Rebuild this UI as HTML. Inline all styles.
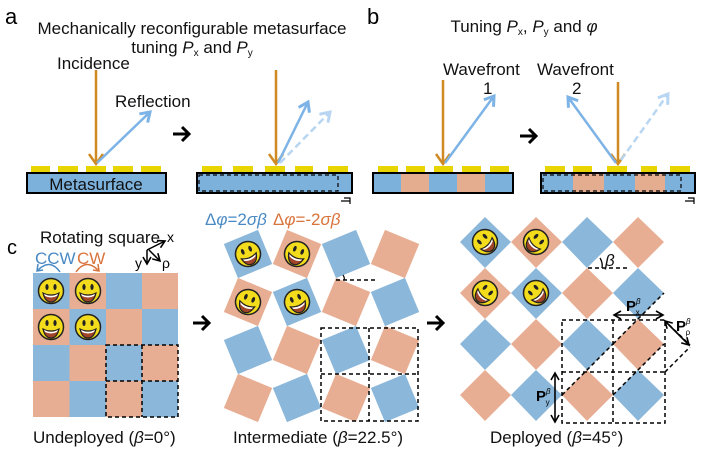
<!DOCTYPE html>
<html><head><meta charset="utf-8"><style>
html,body{margin:0;padding:0;background:#fff;}
svg{display:block;font-family:"Liberation Sans",sans-serif;}
</style></head><body>
<svg width="708" height="453" viewBox="0 0 708 453" xmlns="http://www.w3.org/2000/svg">
<defs>
<marker id="ab" markerWidth="14" markerHeight="14" refX="10" refY="7" orient="auto" markerUnits="userSpaceOnUse"><path d="M1,1 L10,7 L1,13" fill="none" stroke="#7db3e6" stroke-width="3"/></marker>
<marker id="abl" markerWidth="14" markerHeight="14" refX="10" refY="7" orient="auto" markerUnits="userSpaceOnUse"><path d="M1,1 L10,7 L1,13" fill="none" stroke="#b8d6f2" stroke-width="3"/></marker>
<marker id="ak" markerWidth="10" markerHeight="10" refX="8" refY="5" orient="auto" markerUnits="userSpaceOnUse"><path d="M1,1 L8,5 L1,9" fill="none" stroke="#000" stroke-width="1.6"/></marker>
<marker id="ak2" markerWidth="10" markerHeight="10" refX="8" refY="5" orient="auto-start-reverse" markerUnits="userSpaceOnUse"><path d="M1,1 L8,5 L1,9" fill="none" stroke="#000" stroke-width="1.6"/></marker>
<symbol id="sm" viewBox="-14 -14 28 28">
<circle r="12.5" fill="#f2dc1c" stroke="#222" stroke-width="1.5"/>
<ellipse cx="-4" cy="-4" rx="1.6" ry="3" fill="#222"/>
<ellipse cx="4" cy="-4" rx="1.6" ry="3" fill="#222"/>
<path d="M-8,2 Q0,6 8,2 Q6,11 0,11 Q-6,11 -8,2Z" fill="#a0452a" stroke="#222" stroke-width="1.2"/>
<path d="M-7,3 Q0,6.5 7,3 L6,5 Q0,8 -6,5Z" fill="#fff"/>
</symbol>
</defs>
<style>.t{font-size:17px;fill:#111}.s{font-size:10px}</style>

<!-- panel a -->
<text x="5" y="24" font-size="22">a</text>
<text x="192" y="34" class="t" text-anchor="middle">Mechanically reconfigurable metasurface</text>
<text x="192" y="53" class="t" text-anchor="middle">tuning <tspan font-style="italic">P</tspan><tspan class="s" dy="3">x</tspan><tspan dy="-3"> and </tspan><tspan font-style="italic">P</tspan><tspan class="s" dy="3">y</tspan></text>
<text x="57" y="69" class="t">Incidence</text>
<text x="115" y="107" class="t">Reflection</text>
<g fill="#e8d500">
<rect x="31" y="166" width="19" height="7"/><rect x="58" y="166" width="20" height="7"/><rect x="86" y="166" width="20" height="7"/><rect x="113" y="166" width="20" height="7"/><rect x="141" y="166" width="20" height="7"/>
</g>
<rect x="27" y="173" width="139" height="20" fill="#7cb1dc" stroke="#000" stroke-width="2"/>
<text x="96" y="190" class="t" text-anchor="middle">Metasurface</text>
<line x1="96" y1="70" x2="96" y2="163" stroke="#d08a22" stroke-width="2.5"/>
<path d="M89,154 L96,164 L103,154" fill="none" stroke="#d08a22" stroke-width="2.5"/>
<line x1="97" y1="163" x2="150" y2="112" stroke="#7db3e6" stroke-width="2.5" marker-end="url(#ab)"/>
<path d="M173,134 L189,134 M182,127 L189,134 L182,141" fill="none" stroke="#000" stroke-width="3"/>

<g fill="#e8d500">
<rect x="202" y="166" width="20" height="7"/><rect x="233" y="166" width="20" height="7"/><rect x="265" y="166" width="20" height="7"/><rect x="295" y="166" width="18" height="7"/><rect x="328" y="166" width="20" height="7"/>
</g>
<rect x="197" y="173" width="155" height="20" fill="#7cb1dc" stroke="#000" stroke-width="2"/>
<rect x="199" y="175" width="139" height="16" fill="none" stroke="#000" stroke-width="1.2" stroke-dasharray="4,3"/>
<path d="M344,198 L350,198 L350,204 M341,201 L350,201" fill="none" stroke="#000" stroke-width="1.2"/>
<line x1="276" y1="70" x2="276" y2="163" stroke="#d08a22" stroke-width="2.5"/>
<path d="M269,154 L276,164 L283,154" fill="none" stroke="#d08a22" stroke-width="2.5"/>
<line x1="278" y1="163" x2="308" y2="102" stroke="#7db3e6" stroke-width="2.5" marker-end="url(#ab)"/>
<line x1="280" y1="163" x2="330" y2="112" stroke="#b8d6f2" stroke-width="2.5" stroke-dasharray="7,4" marker-end="url(#abl)"/>

<!-- panel b -->
<text x="367" y="24" font-size="22">b</text>
<text x="524" y="32" class="t" text-anchor="middle">Tuning <tspan font-style="italic">P</tspan><tspan class="s" dy="3">x</tspan><tspan dy="-3">, </tspan><tspan font-style="italic">P</tspan><tspan class="s" dy="3">y</tspan><tspan dy="-3"> and </tspan><tspan font-style="italic">φ</tspan></text>
<text x="443" y="75" class="t">Wavefront</text>
<text x="483" y="94" class="t">1</text>
<text x="537" y="75" class="t">Wavefront</text>
<text x="572" y="94" class="t">2</text>
<g fill="#e8d500">
<rect x="378" y="166" width="20" height="7"/><rect x="406" y="166" width="19" height="7"/><rect x="434" y="166" width="19" height="7"/><rect x="462" y="166" width="19" height="7"/><rect x="490" y="166" width="19" height="7"/>
<rect x="545" y="166" width="20" height="7"/><rect x="573" y="166" width="19" height="7"/><rect x="607" y="166" width="20" height="7"/><rect x="641" y="166" width="16" height="7"/><rect x="670" y="166" width="20" height="7"/>
</g>
<rect x="373" y="173" width="28" height="20" fill="#7cb1dc"/><rect x="401" y="173" width="28" height="20" fill="#e5ad90"/><rect x="429" y="173" width="28" height="20" fill="#7cb1dc"/><rect x="457" y="173" width="28" height="20" fill="#e5ad90"/><rect x="485" y="173" width="28" height="20" fill="#7cb1dc"/>
<rect x="373" y="173" width="140" height="20" fill="none" stroke="#000" stroke-width="2"/>
<rect x="541" y="173" width="32" height="20" fill="#7cb1dc"/><rect x="573" y="173" width="31" height="20" fill="#e5ad90"/><rect x="604" y="173" width="31" height="20" fill="#7cb1dc"/><rect x="635" y="173" width="30" height="20" fill="#e5ad90"/><rect x="665" y="173" width="30" height="20" fill="#7cb1dc"/>
<rect x="541" y="173" width="154" height="20" fill="none" stroke="#000" stroke-width="2"/>
<rect x="543" y="175" width="138" height="16" fill="none" stroke="#000" stroke-width="1.2" stroke-dasharray="4,3"/>
<path d="M688,198 L694,198 L694,204 M685,201 L694,201" fill="none" stroke="#000" stroke-width="1.2"/>
<line x1="443" y1="80" x2="443" y2="163" stroke="#d08a22" stroke-width="2.5"/>
<path d="M436,154 L443,164 L450,154" fill="none" stroke="#d08a22" stroke-width="2.5"/>
<line x1="445" y1="163" x2="494" y2="96" stroke="#7db3e6" stroke-width="2.5" marker-end="url(#ab)"/>
<path d="M520,136 L536,136 M529,129 L536,136 L529,143" fill="none" stroke="#000" stroke-width="3"/>
<line x1="618" y1="82" x2="618" y2="163" stroke="#d08a22" stroke-width="2.5"/>
<path d="M611,154 L618,164 L625,154" fill="none" stroke="#d08a22" stroke-width="2.5"/>
<line x1="616" y1="163" x2="568" y2="97" stroke="#7db3e6" stroke-width="2.5" marker-end="url(#ab)"/>
<line x1="621" y1="160" x2="668" y2="94" stroke="#b8d6f2" stroke-width="2.5" stroke-dasharray="7,4" marker-end="url(#abl)"/>

<!-- panel c -->
<text x="7" y="254" font-size="20">c</text>
<text x="40" y="243" class="t">Rotating square</text>
<text x="35" y="264" class="t" style="fill:#4a8ac4">CCW</text>
<text x="77" y="264" class="t" style="fill:#d9743c">CW</text>
<path d="M60,272 Q50,258 38,270" fill="none" stroke="#4a8ac4" stroke-width="1.5"/><path d="M38,264 L37,271 L43,270" fill="none" stroke="#4a8ac4" stroke-width="1.5"/>
<path d="M76,272 Q86,258 98,270" fill="none" stroke="#d9743c" stroke-width="1.5"/><path d="M98,264 L99,271 L93,270" fill="none" stroke="#d9743c" stroke-width="1.5"/>
<line x1="147" y1="250" x2="165" y2="241" stroke="#000" stroke-width="1.5" marker-end="url(#ak)"/>
<line x1="147" y1="250" x2="147" y2="264" stroke="#000" stroke-width="1.5" marker-end="url(#ak)"/>
<line x1="149" y1="250" x2="160" y2="261" stroke="#000" stroke-width="1.5" marker-end="url(#ak)"/>
<text x="167" y="242" font-size="14">x</text>
<text x="135" y="268" font-size="14">y</text>
<text x="162" y="268" font-size="14">ρ</text>

<g>
<rect x="33" y="273" width="36.5" height="36" fill="#8bb7da"/><rect x="69.5" y="273" width="36.5" height="36" fill="#e8ae93"/><rect x="106" y="273" width="36" height="36" fill="#8bb7da"/><rect x="142" y="273" width="36" height="36" fill="#e8ae93"/>
<rect x="33" y="309" width="36.5" height="36" fill="#e8ae93"/><rect x="69.5" y="309" width="36.5" height="36" fill="#8bb7da"/><rect x="106" y="309" width="36" height="36" fill="#e8ae93"/><rect x="142" y="309" width="36" height="36" fill="#8bb7da"/>
<rect x="33" y="345" width="36.5" height="36" fill="#8bb7da"/><rect x="69.5" y="345" width="36.5" height="36" fill="#e8ae93"/><rect x="106" y="345" width="36" height="36" fill="#8bb7da"/><rect x="142" y="345" width="36" height="36" fill="#e8ae93"/>
<rect x="33" y="381" width="36.5" height="36" fill="#e8ae93"/><rect x="69.5" y="381" width="36.5" height="36" fill="#8bb7da"/><rect x="106" y="381" width="36" height="36" fill="#e8ae93"/><rect x="142" y="381" width="36" height="36" fill="#8bb7da"/>
</g>
<use href="#sm" x="37" y="277" width="28" height="28"/><use href="#sm" x="74" y="277" width="28" height="28"/>
<use href="#sm" x="37" y="313" width="28" height="28"/><use href="#sm" x="74" y="313" width="28" height="28"/>
<g fill="none" stroke="#000" stroke-width="1.5" stroke-dasharray="4,3">
<rect x="106" y="345" width="72" height="72"/><line x1="142" y1="345" x2="142" y2="417"/><line x1="106" y1="381" x2="178" y2="381"/>
</g>
<text x="33" y="443" class="t" font-size="17.5">Undeployed (<tspan font-style="italic">β</tspan>=0°)</text>

<path d="M193,323 L209,323 M202,316 L209,323 L202,330" fill="none" stroke="#000" stroke-width="3"/>

<!-- intermediate -->
<text x="205" y="225" class="t" style="fill:#4a8ac4">Δ<tspan font-style="italic">φ</tspan>=2<tspan font-style="italic">σβ</tspan></text>
<text x="273" y="225" class="t" style="fill:#d9743c">Δ<tspan font-style="italic">φ</tspan>=-2<tspan font-style="italic">σβ</tspan></text>
<g>
<rect x="-18.5" y="-18.5" width="37" height="37" fill="#8bb7da" transform="translate(248,254) rotate(-22.5)"/>
<rect x="-18.5" y="-18.5" width="37" height="37" fill="#e8ae93" transform="translate(297,254) rotate(22.5)"/>
<rect x="-18.5" y="-18.5" width="37" height="37" fill="#8bb7da" transform="translate(346,254) rotate(-22.5)"/>
<rect x="-18.5" y="-18.5" width="37" height="37" fill="#e8ae93" transform="translate(395,254) rotate(22.5)"/>
<rect x="-18.5" y="-18.5" width="37" height="37" fill="#e8ae93" transform="translate(248,302) rotate(22.5)"/>
<rect x="-18.5" y="-18.5" width="37" height="37" fill="#8bb7da" transform="translate(297,302) rotate(-22.5)"/>
<rect x="-18.5" y="-18.5" width="37" height="37" fill="#e8ae93" transform="translate(346,302) rotate(22.5)"/>
<rect x="-18.5" y="-18.5" width="37" height="37" fill="#8bb7da" transform="translate(395,302) rotate(-22.5)"/>
<rect x="-18.5" y="-18.5" width="37" height="37" fill="#8bb7da" transform="translate(248,350) rotate(-22.5)"/>
<rect x="-18.5" y="-18.5" width="37" height="37" fill="#e8ae93" transform="translate(297,350) rotate(22.5)"/>
<rect x="-18.5" y="-18.5" width="37" height="37" fill="#8bb7da" transform="translate(346,350) rotate(-22.5)"/>
<rect x="-18.5" y="-18.5" width="37" height="37" fill="#e8ae93" transform="translate(395,350) rotate(22.5)"/>
<rect x="-18.5" y="-18.5" width="37" height="37" fill="#e8ae93" transform="translate(248,398) rotate(22.5)"/>
<rect x="-18.5" y="-18.5" width="37" height="37" fill="#8bb7da" transform="translate(297,398) rotate(-22.5)"/>
<rect x="-18.5" y="-18.5" width="37" height="37" fill="#e8ae93" transform="translate(346,398) rotate(22.5)"/>
<rect x="-18.5" y="-18.5" width="37" height="37" fill="#8bb7da" transform="translate(395,398) rotate(-22.5)"/>
</g>
<use href="#sm" x="-14" y="-14" width="28" height="28" transform="translate(248,254) rotate(-22.5)"/>
<use href="#sm" x="-14" y="-14" width="28" height="28" transform="translate(297,254) rotate(22.5)"/>
<use href="#sm" x="-14" y="-14" width="28" height="28" transform="translate(248,302) rotate(22.5)"/>
<use href="#sm" x="-14" y="-14" width="28" height="28" transform="translate(297,302) rotate(-22.5)"/>
<g fill="none" stroke="#000" stroke-width="1.5" stroke-dasharray="4,3">
<rect x="321" y="328" width="97" height="93"/><line x1="369" y1="328" x2="369" y2="421"/><line x1="321" y1="374" x2="418" y2="374"/>
<line x1="336" y1="280" x2="378" y2="280"/>
</g>
<path d="M343,275 Q345,278 344,280" fill="none" stroke="#000" stroke-width="1.2"/>
<text x="233" y="443" class="t" font-size="17.5">Intermediate (<tspan font-style="italic">β</tspan>=22.5°)</text>

<path d="M427,323 L443,323 M436,316 L443,323 L436,330" fill="none" stroke="#000" stroke-width="3"/>

<!-- deployed -->
<g>
<path d="M485,217 L511,242 L485,268 L460,242Z" fill="#8bb7da"/>
<path d="M536,217 L562,242 L536,268 L511,242Z" fill="#e8ae93"/>
<path d="M587,217 L613,242 L587,268 L562,242Z" fill="#8bb7da"/>
<path d="M638,217 L664,242 L638,268 L613,242Z" fill="#e8ae93"/>
<path d="M485,268 L511,293 L485,319 L460,293Z" fill="#e8ae93"/>
<path d="M536,268 L562,293 L536,319 L511,293Z" fill="#8bb7da"/>
<path d="M587,268 L613,293 L587,319 L562,293Z" fill="#e8ae93"/>
<path d="M638,268 L664,293 L638,319 L613,293Z" fill="#8bb7da"/>
<path d="M485,319 L511,344 L485,370 L460,344Z" fill="#8bb7da"/>
<path d="M536,319 L562,344 L536,370 L511,344Z" fill="#e8ae93"/>
<path d="M587,319 L613,344 L587,370 L562,344Z" fill="#8bb7da"/>
<path d="M638,319 L664,344 L638,370 L613,344Z" fill="#e8ae93"/>
<path d="M485,370 L511,395 L485,421 L460,395Z" fill="#e8ae93"/>
<path d="M536,370 L562,395 L536,421 L511,395Z" fill="#8bb7da"/>
<path d="M587,370 L613,395 L587,421 L562,395Z" fill="#e8ae93"/>
<path d="M638,370 L664,395 L638,421 L613,395Z" fill="#8bb7da"/>
</g>
<use href="#sm" x="-14" y="-14" width="28" height="28" transform="translate(485,242) rotate(-45)"/>
<use href="#sm" x="-14" y="-14" width="28" height="28" transform="translate(536,242) rotate(45)"/>
<use href="#sm" x="-14" y="-14" width="28" height="28" transform="translate(485,293) rotate(45)"/>
<use href="#sm" x="-14" y="-14" width="28" height="28" transform="translate(536,293) rotate(-45)"/>
<g fill="none" stroke="#000" stroke-width="1.5" stroke-dasharray="4,3">
<rect x="562" y="320" width="103" height="103"/><line x1="613" y1="320" x2="613" y2="423"/><line x1="562" y1="372" x2="665" y2="372"/>
<line x1="588" y1="268" x2="628" y2="268"/>
<line x1="613" y1="344" x2="664" y2="293"/>
<line x1="562" y1="395" x2="613" y2="344"/>
<line x1="613" y1="395" x2="664" y2="344"/>
<line x1="664" y1="320" x2="690" y2="345"/>
<line x1="665" y1="372" x2="690" y2="347"/>
</g>
<path d="M600,258 Q603,263 602,268" fill="none" stroke="#000" stroke-width="1.3"/>
<text x="605" y="266" class="t" font-style="italic">β</text>
<line x1="614" y1="315" x2="663" y2="315" stroke="#000" stroke-width="1.6" marker-start="url(#ak2)" marker-end="url(#ak2)"/>
<text x="626" y="311" font-size="15" font-weight="bold">P<tspan font-size="8" dy="-7" font-weight="normal" font-style="italic">β</tspan><tspan font-size="8" dx="-5" dy="11" font-weight="normal">x</tspan></text>
<line x1="665" y1="321" x2="689" y2="345" stroke="#000" stroke-width="1.6" marker-start="url(#ak2)" marker-end="url(#ak2)"/>
<text x="676" y="331" font-size="15" font-weight="bold">P<tspan font-size="8" dy="-7" font-weight="normal" font-style="italic">β</tspan><tspan font-size="8" dx="-5" dy="11" font-weight="normal">ρ</tspan></text>
<line x1="555" y1="373" x2="555" y2="422" stroke="#000" stroke-width="1.6" marker-start="url(#ak2)" marker-end="url(#ak2)"/>
<text x="536" y="401" font-size="15" font-weight="bold">P<tspan font-size="8" dy="-7" font-weight="normal" font-style="italic">β</tspan><tspan font-size="8" dx="-5" dy="11" font-weight="normal">y</tspan></text>
<text x="490" y="443" class="t" font-size="17.5">Deployed (<tspan font-style="italic">β</tspan>=45°)</text>
</svg>
</body></html>
